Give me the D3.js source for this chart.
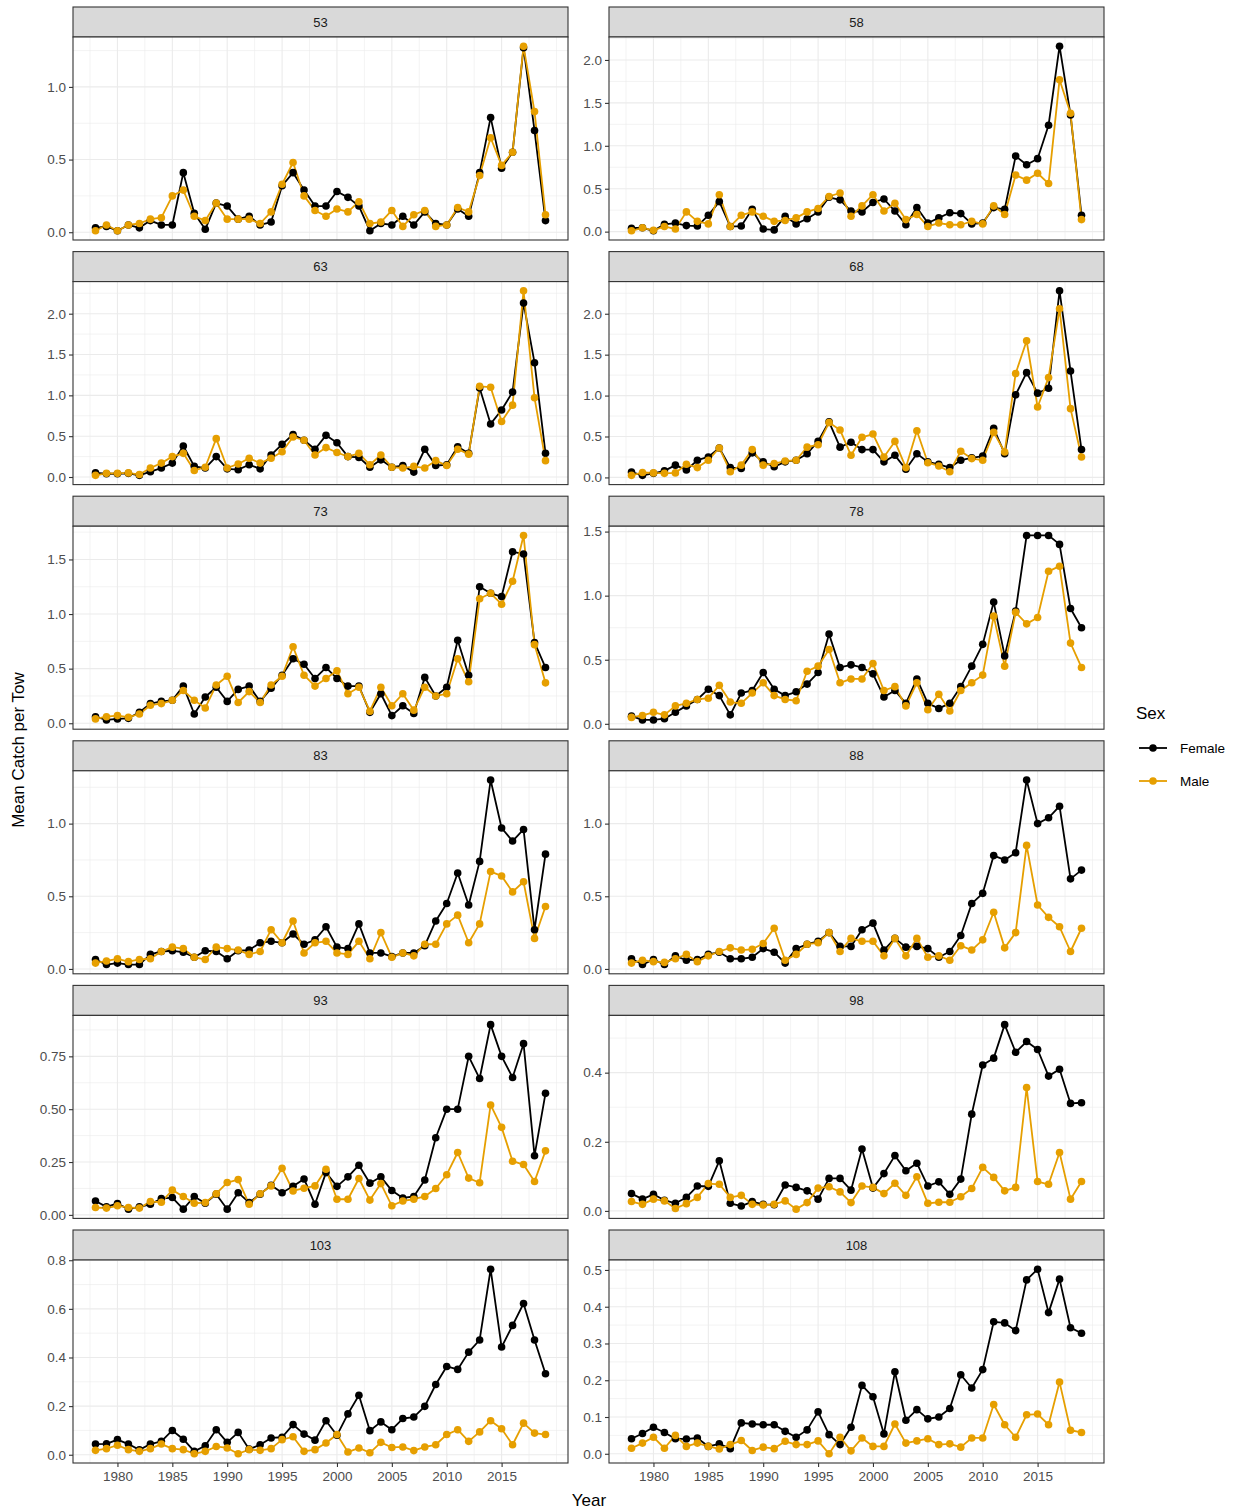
<!DOCTYPE html>
<html><head><meta charset="utf-8">
<script src="https://cdn.jsdelivr.net/npm/d3@7/dist/d3.min.js"></script>
<style>
body{margin:0;background:#fff;}
text{font-family:"Liberation Sans",Arial,Helvetica,sans-serif;}
</style>
</head><body>
<svg id="chart" width="1238" height="1510"></svg>
<script>
// ---------- DATA ----------
const years = [1978,1979,1980,1981,1982,1983,1984,1985,1986,1987,1988,1989,1990,1991,1992,1993,1994,1995,1996,1997,1998,1999,2000,2001,2002,2003,2004,2005,2006,2007,2008,2009,2010,2011,2012,2013,2014,2015,2016,2017,2018,2019];
const panelLabels = ["53","58","63","68","73","78","83","88","93","98","103","108"];
const xTicks = [1980,1985,1990,1995,2000,2005,2010,2015];
const sexes = ["Female","Male"];
const sexColors = ["#000000","#E69F00"];

const female53 = [0.03,0.04,0.01,0.05,0.03,0.08,0.05,0.05,0.41,0.13,0.02,0.20,0.18,0.09,0.11,0.05,0.07,0.32,0.41,0.29,0.18,0.18,0.28,0.24,0.18,0.01,0.06,0.05,0.11,0.05,0.14,0.06,0.05,0.16,0.11,0.41,0.79,0.44,0.55,1.27,0.70,0.08];
const male53   = [0.01,0.05,0.01,0.05,0.06,0.09,0.10,0.25,0.29,0.11,0.08,0.20,0.09,0.09,0.09,0.06,0.14,0.33,0.48,0.25,0.15,0.11,0.16,0.14,0.21,0.06,0.07,0.15,0.04,0.12,0.15,0.04,0.05,0.17,0.14,0.39,0.65,0.46,0.55,1.28,0.83,0.12];
const female58 = [0.04,0.045,0.01,0.085,0.10,0.07,0.065,0.19,0.35,0.06,0.065,0.26,0.03,0.02,0.18,0.09,0.15,0.23,0.40,0.37,0.24,0.23,0.34,0.38,0.24,0.08,0.28,0.10,0.16,0.22,0.21,0.09,0.10,0.28,0.26,0.88,0.78,0.85,1.24,2.16,1.36,0.19];
const male58   = [0.01,0.045,0.015,0.06,0.03,0.23,0.12,0.09,0.43,0.06,0.19,0.23,0.18,0.12,0.13,0.16,0.23,0.27,0.41,0.45,0.18,0.30,0.43,0.24,0.33,0.14,0.20,0.06,0.10,0.08,0.08,0.12,0.09,0.30,0.20,0.66,0.60,0.68,0.56,1.77,1.38,0.14];
const female63 = [0.05,0.04,0.04,0.045,0.02,0.065,0.11,0.17,0.38,0.13,0.11,0.25,0.10,0.09,0.15,0.10,0.27,0.40,0.52,0.45,0.34,0.51,0.42,0.25,0.24,0.12,0.21,0.12,0.14,0.06,0.34,0.14,0.15,0.37,0.29,1.09,0.65,0.82,1.04,2.13,1.40,0.29];
const male63   = [0.02,0.045,0.045,0.05,0.03,0.11,0.17,0.25,0.29,0.08,0.12,0.47,0.11,0.16,0.23,0.17,0.23,0.31,0.49,0.45,0.27,0.36,0.30,0.25,0.29,0.15,0.27,0.12,0.11,0.13,0.11,0.20,0.14,0.34,0.28,1.11,1.10,0.68,0.88,2.28,0.97,0.20];
const female68 = [0.065,0.025,0.05,0.08,0.15,0.09,0.21,0.25,0.36,0.12,0.11,0.30,0.19,0.13,0.19,0.21,0.29,0.44,0.68,0.37,0.43,0.34,0.34,0.19,0.27,0.10,0.29,0.19,0.16,0.12,0.21,0.24,0.26,0.60,0.29,1.01,1.28,1.03,1.09,2.28,1.30,0.34];
const male68   = [0.025,0.06,0.055,0.05,0.055,0.16,0.12,0.21,0.36,0.07,0.15,0.34,0.15,0.17,0.20,0.21,0.37,0.40,0.67,0.58,0.27,0.49,0.53,0.25,0.44,0.12,0.57,0.18,0.14,0.07,0.32,0.23,0.21,0.55,0.31,1.27,1.67,0.86,1.22,2.06,0.84,0.25];
const female73 = [0.06,0.03,0.04,0.045,0.10,0.18,0.20,0.21,0.34,0.085,0.24,0.33,0.20,0.31,0.34,0.20,0.32,0.44,0.59,0.54,0.41,0.51,0.41,0.34,0.34,0.10,0.27,0.07,0.16,0.09,0.42,0.25,0.33,0.76,0.44,1.25,1.19,1.16,1.57,1.55,0.74,0.51];
const male73   = [0.04,0.06,0.07,0.055,0.085,0.165,0.18,0.21,0.30,0.21,0.14,0.35,0.43,0.19,0.29,0.19,0.35,0.43,0.70,0.44,0.34,0.41,0.48,0.27,0.33,0.11,0.33,0.16,0.27,0.12,0.33,0.25,0.27,0.59,0.38,1.14,1.19,1.09,1.30,1.72,0.72,0.37];
const female78 = [0.06,0.03,0.03,0.04,0.09,0.14,0.19,0.27,0.22,0.07,0.24,0.26,0.40,0.27,0.22,0.25,0.31,0.40,0.70,0.44,0.46,0.44,0.39,0.21,0.26,0.16,0.35,0.16,0.12,0.16,0.29,0.45,0.62,0.95,0.53,0.88,1.47,1.47,1.47,1.40,0.90,0.75];
const male78   = [0.05,0.065,0.09,0.07,0.14,0.16,0.19,0.20,0.30,0.17,0.16,0.24,0.32,0.22,0.19,0.18,0.41,0.45,0.58,0.32,0.35,0.35,0.47,0.26,0.29,0.14,0.32,0.11,0.23,0.10,0.26,0.32,0.38,0.84,0.45,0.87,0.78,0.83,1.19,1.23,0.63,0.44];
const female83 = [0.065,0.03,0.04,0.03,0.03,0.10,0.12,0.125,0.115,0.08,0.125,0.12,0.07,0.125,0.13,0.18,0.19,0.18,0.24,0.17,0.20,0.29,0.15,0.14,0.31,0.11,0.11,0.085,0.11,0.11,0.16,0.33,0.45,0.66,0.44,0.74,1.30,0.97,0.88,0.96,0.27,0.79];
const male83   = [0.04,0.055,0.07,0.05,0.065,0.07,0.12,0.15,0.14,0.08,0.065,0.15,0.14,0.13,0.10,0.12,0.27,0.18,0.33,0.11,0.18,0.19,0.11,0.10,0.19,0.07,0.25,0.08,0.11,0.09,0.17,0.17,0.31,0.37,0.18,0.31,0.67,0.64,0.53,0.60,0.21,0.43];
const female88 = [0.07,0.03,0.065,0.03,0.09,0.06,0.065,0.10,0.115,0.07,0.07,0.08,0.14,0.115,0.04,0.14,0.17,0.19,0.25,0.155,0.155,0.27,0.315,0.13,0.21,0.15,0.155,0.14,0.08,0.12,0.23,0.45,0.52,0.78,0.75,0.80,1.30,1.00,1.04,1.12,0.62,0.68];
const male88   = [0.04,0.06,0.05,0.045,0.07,0.10,0.05,0.09,0.12,0.145,0.13,0.135,0.175,0.28,0.06,0.10,0.17,0.18,0.25,0.12,0.21,0.19,0.19,0.09,0.21,0.09,0.21,0.08,0.09,0.06,0.16,0.13,0.20,0.39,0.145,0.25,0.85,0.44,0.355,0.29,0.12,0.28];
const female93 = [0.066,0.038,0.054,0.027,0.038,0.05,0.077,0.082,0.027,0.087,0.055,0.098,0.027,0.105,0.058,0.098,0.14,0.105,0.135,0.17,0.05,0.20,0.135,0.18,0.235,0.15,0.18,0.115,0.08,0.087,0.165,0.365,0.50,0.50,0.75,0.645,0.90,0.75,0.65,0.81,0.28,0.575];
const male93   = [0.035,0.032,0.043,0.035,0.032,0.063,0.06,0.117,0.087,0.055,0.058,0.10,0.153,0.167,0.05,0.10,0.137,0.22,0.113,0.126,0.137,0.216,0.074,0.074,0.172,0.07,0.148,0.043,0.066,0.074,0.087,0.125,0.19,0.295,0.174,0.152,0.52,0.414,0.254,0.238,0.158,0.303];
const female98 = [0.05,0.034,0.048,0.031,0.022,0.039,0.072,0.071,0.145,0.022,0.014,0.027,0.019,0.018,0.075,0.068,0.058,0.034,0.094,0.094,0.06,0.179,0.066,0.108,0.16,0.116,0.138,0.072,0.084,0.048,0.092,0.28,0.422,0.442,0.539,0.459,0.49,0.467,0.39,0.41,0.311,0.313];
const male98   = [0.027,0.019,0.034,0.029,0.007,0.021,0.039,0.079,0.077,0.039,0.045,0.019,0.017,0.019,0.029,0.005,0.024,0.066,0.07,0.055,0.024,0.072,0.068,0.05,0.08,0.045,0.099,0.022,0.025,0.025,0.041,0.065,0.126,0.097,0.058,0.068,0.357,0.085,0.077,0.169,0.034,0.085];
const female103 = [0.044,0.045,0.062,0.044,0.02,0.044,0.055,0.10,0.064,0.014,0.037,0.103,0.051,0.092,0.023,0.041,0.069,0.072,0.124,0.085,0.06,0.14,0.08,0.168,0.245,0.099,0.135,0.103,0.149,0.155,0.199,0.289,0.363,0.351,0.422,0.472,0.763,0.443,0.532,0.622,0.472,0.333];
const male103   = [0.018,0.025,0.039,0.021,0.014,0.025,0.044,0.025,0.021,0.004,0.014,0.034,0.028,0.004,0.021,0.018,0.025,0.062,0.074,0.014,0.021,0.048,0.083,0.011,0.028,0.008,0.051,0.03,0.032,0.017,0.032,0.041,0.083,0.103,0.055,0.094,0.14,0.107,0.041,0.13,0.089,0.083];
const female108 = [0.041,0.055,0.072,0.058,0.041,0.04,0.043,0.02,0.027,0.014,0.084,0.081,0.079,0.079,0.061,0.045,0.065,0.114,0.052,0.025,0.072,0.186,0.155,0.054,0.223,0.091,0.12,0.095,0.10,0.123,0.215,0.179,0.229,0.359,0.356,0.335,0.473,0.502,0.384,0.475,0.343,0.328];
const male108   = [0.015,0.029,0.045,0.015,0.05,0.02,0.029,0.02,0.013,0.025,0.036,0.009,0.018,0.014,0.034,0.025,0.025,0.035,0.0,0.045,0.008,0.043,0.02,0.02,0.081,0.029,0.035,0.041,0.025,0.027,0.018,0.043,0.043,0.134,0.079,0.045,0.106,0.108,0.079,0.195,0.064,0.058];

const yTicks53 = [0,0.5,1.0];
const yTicks58 = [0,0.5,1.0,1.5,2.0];
const yTicks63 = [0,0.5,1.0,1.5,2.0];
const yTicks68 = [0,0.5,1.0,1.5,2.0];
const yTicks73 = [0,0.5,1.0,1.5];
const yTicks78 = [0,0.5,1.0,1.5];
const yTicks83 = [0,0.5,1.0];
const yTicks88 = [0,0.5,1.0];
const yTicks93 = [0,0.25,0.5,0.75];
const yTicks98 = [0,0.2,0.4];
const yTicks103 = [0,0.2,0.4,0.6,0.8];
const yTicks108 = [0,0.1,0.2,0.3,0.4,0.5];

const panels = [
  {label:panelLabels[0], f:female53, m:male53, ticks:yTicks53, dec:1},
  {label:panelLabels[1], f:female58, m:male58, ticks:yTicks58, dec:1},
  {label:panelLabels[2], f:female63, m:male63, ticks:yTicks63, dec:1},
  {label:panelLabels[3], f:female68, m:male68, ticks:yTicks68, dec:1},
  {label:panelLabels[4], f:female73, m:male73, ticks:yTicks73, dec:1},
  {label:panelLabels[5], f:female78, m:male78, ticks:yTicks78, dec:1},
  {label:panelLabels[6], f:female83, m:male83, ticks:yTicks83, dec:1},
  {label:panelLabels[7], f:female88, m:male88, ticks:yTicks88, dec:1},
  {label:panelLabels[8], f:female93, m:male93, ticks:yTicks93, dec:2},
  {label:panelLabels[9], f:female98, m:male98, ticks:yTicks98, dec:1},
  {label:panelLabels[10], f:female103, m:male103, ticks:yTicks103, dec:1},
  {label:panelLabels[11], f:female108, m:male108, ticks:yTicks108, dec:1}
];

// ---------- LAYOUT ----------
const svg = d3.select("#chart");
const colX = [73, 609];
const panelW = 495;
const top0 = 7, rowStep = 244.6, stripH = 30, plotH = 203;
const gridCol = "#EBEBEB", borderCol = "#333333", tickLabCol = "#4D4D4D";
const lineW = 1.8, ptR = 3.8;

const xDom = [d3.min(years), d3.max(years)];
const xPad = (xDom[1]-xDom[0])*0.05;
const x = d3.scaleLinear().domain([xDom[0]-xPad, xDom[1]+xPad]).range([0, panelW]);
const xMinor = [];
for (let i = 0; i < xTicks.length + 1; i++) {
  const a = xTicks[0] - 5 + i*5; xMinor.push(a + 2.5, a + 5);
}

panels.forEach((p, i) => {
  const col = i % 2, row = Math.floor(i / 2);
  const gx = colX[col], gy = top0 + row*rowStep;
  const g = svg.append("g").attr("transform", `translate(${gx},${gy})`);

  // strip
  g.append("rect").attr("x",0).attr("y",0).attr("width",panelW).attr("height",stripH)
    .attr("fill","#D9D9D9").attr("stroke",borderCol).attr("stroke-width",1.1);
  g.append("text").attr("x",panelW/2).attr("y",stripH/2).attr("dy","0.35em")
    .attr("text-anchor","middle").attr("font-size",13).attr("fill","#1A1A1A").text(p.label);

  const pg = g.append("g").attr("transform",`translate(0,${stripH})`);
  const all = p.f.concat(p.m);
  const lo = d3.min(all), hi = d3.max(all), r = hi - lo;
  const y = d3.scaleLinear().domain([lo - 0.05*r, hi + 0.05*r]).range([plotH, 0]);

  pg.append("rect").attr("width",panelW).attr("height",plotH).attr("fill","#fff");

  // minor grid
  const step = p.ticks[1] - p.ticks[0];
  const yExt = [p.ticks[0]-step].concat(p.ticks, [p.ticks[p.ticks.length-1]+step]);
  const yMinor = [];
  for (let k = 0; k < yExt.length-1; k++) yMinor.push((yExt[k]+yExt[k+1])/2);
  const [d0, d1] = y.domain();
  pg.selectAll(".ymin").data(yMinor.filter(v => v>d0 && v<d1)).enter().append("line")
    .attr("x1",0).attr("x2",panelW).attr("y1",d=>y(d)).attr("y2",d=>y(d))
    .attr("stroke",gridCol).attr("stroke-width",0.6);
  pg.selectAll(".xmin").data(xMinor.filter(v => v>x.domain()[0] && v<x.domain()[1] && !xTicks.includes(v))).enter().append("line")
    .attr("y1",0).attr("y2",plotH).attr("x1",d=>x(d)).attr("x2",d=>x(d))
    .attr("stroke",gridCol).attr("stroke-width",0.6);
  // major grid
  pg.selectAll(".ymaj").data(p.ticks).enter().append("line")
    .attr("x1",0).attr("x2",panelW).attr("y1",d=>y(d)).attr("y2",d=>y(d))
    .attr("stroke",gridCol).attr("stroke-width",1.1);
  pg.selectAll(".xmaj").data(xTicks).enter().append("line")
    .attr("y1",0).attr("y2",plotH).attr("x1",d=>x(d)).attr("x2",d=>x(d))
    .attr("stroke",gridCol).attr("stroke-width",1.1);

  // series
  const series = [p.f, p.m];
  const line = d3.line().x((d,k)=>x(years[k])).y(d=>y(d));
  series.forEach((s, si) => {
    pg.append("path").datum(s).attr("d", line).attr("fill","none")
      .attr("stroke", sexColors[si]).attr("stroke-width",lineW).attr("stroke-linejoin","round");
  });
  series.forEach((s, si) => {
    pg.selectAll(".pt"+si).data(s).enter().append("circle")
      .attr("cx",(d,k)=>x(years[k])).attr("cy",d=>y(d)).attr("r",ptR)
      .attr("fill", sexColors[si]);
  });

  // border
  pg.append("rect").attr("width",panelW).attr("height",plotH).attr("fill","none")
    .attr("stroke",borderCol).attr("stroke-width",1.1);

  // y axis
  const yAxis = d3.axisLeft(y).tickValues(p.ticks).tickSize(4).tickPadding(3)
    .tickFormat(d3.format(`.${p.dec}f`));
  const ya = pg.append("g").call(yAxis);
  ya.select(".domain").remove();
  ya.selectAll(".tick line").attr("stroke",borderCol).attr("stroke-width",1.1);
  ya.selectAll(".tick text").attr("font-size",13.5).attr("fill",tickLabCol)
    .attr("font-family",'"Liberation Sans",Arial,sans-serif');

  // x axis (bottom row only has labels)
  const xAxis = d3.axisBottom(x).tickValues(xTicks).tickSize(4).tickPadding(4).tickFormat(d3.format("d"));
  const xa = pg.append("g").attr("transform",`translate(0,${plotH})`).call(xAxis);
  xa.select(".domain").remove();
  xa.selectAll(".tick line").attr("stroke",borderCol).attr("stroke-width",1.1);
  if (row === 5) {
    xa.selectAll(".tick text").attr("font-size",13.5).attr("fill",tickLabCol)
      .attr("font-family",'"Liberation Sans",Arial,sans-serif');
  } else {
    xa.selectAll(".tick").remove();
  }
});

// axis titles
svg.append("text").attr("x", 589).attr("y", 1506).attr("text-anchor","middle")
  .attr("font-size",17).attr("fill","#000").text("Year");
svg.append("text").attr("transform","translate(24,750) rotate(-90)").attr("text-anchor","middle")
  .attr("font-size",17).attr("fill","#000").text("Mean Catch per Tow");

// legend
const lg = svg.append("g").attr("transform","translate(1136,0)");
lg.append("text").attr("x",0).attr("y",719).attr("font-size",17).attr("fill","#000").text("Sex");
sexes.forEach((s, i) => {
  const cy = 748 + i*33;
  lg.append("line").attr("x1",3).attr("x2",31).attr("y1",cy).attr("y2",cy)
    .attr("stroke",sexColors[i]).attr("stroke-width",lineW);
  lg.append("circle").attr("cx",17).attr("cy",cy).attr("r",ptR).attr("fill",sexColors[i]);
  lg.append("text").attr("x",44).attr("y",cy).attr("dy","0.35em").attr("font-size",13.5)
    .attr("fill","#000").text(s);
});
</script>
</body></html>
